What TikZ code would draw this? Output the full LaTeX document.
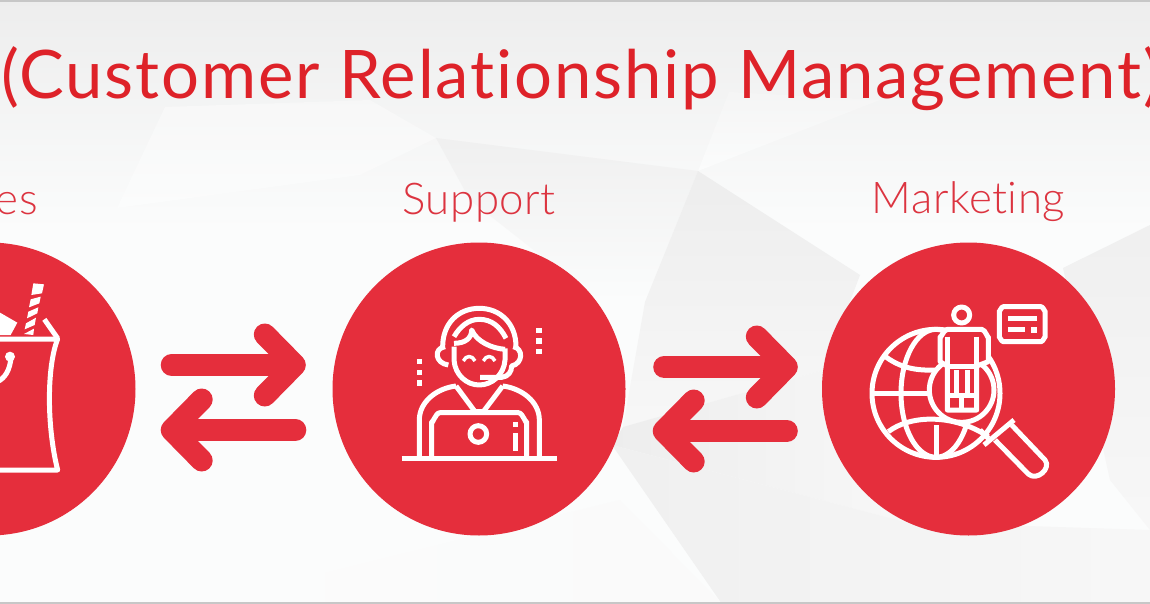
\documentclass[tikz,border=0pt]{standalone}
\usepackage{fontspec}
\setmainfont{Lato}[Ligatures=NoCommon]
\newfontfamily\thinface{Lato Light}[Ligatures=NoCommon, LetterSpace=1.2]
\usetikzlibrary{arrows.meta}
\definecolor{crmred}{HTML}{E52E3C}
\definecolor{titlered}{HTML}{DE2229}
\definecolor{labelred}{HTML}{DC3440}
\definecolor{paper}{HTML}{FBFCFC}
\tikzstyle{hub}=[circle, fill=crmred, inner sep=0pt, minimum size=293pt]
\tikzstyle{hublabel}=[inner sep=0pt, text=labelred, font=\thinface\fontsize{43.8}{43.8}\selectfont]
\tikzstyle{flow}=[draw=crmred, line width=22pt, line cap=round, -{Straight Barb[length=30pt, width=61pt, line width=22pt, round]}]
\tikzstyle{icon}=[draw=white, line width=5pt, line join=round]
\begin{document}
\begin{tikzpicture}[x=1pt, y=-1pt]
    \useasboundingbox (0, 0) rectangle (1150, 604);
    \clip (0, 0) rectangle (1150, 604);
    % background
    \fill[paper] (0, 0) rectangle (1150, 604);
    \shade[top color=black!7, bottom color=paper] (0, 0) rectangle (1150, 230);
    \shade[top color=black!3, bottom color=paper] (165, 107) -- (117, 208) -- (360, 175) -- (436, 138) -- (370, 100) -- cycle;
    \shade[top color=black!4, bottom color=paper] (698, 171) -- (729, 92) -- (880, 100) -- cycle;
    \shade[top color=black!6, bottom color=paper] (436, 138) -- (698, 171) -- (645, 302) -- (600, 302) -- (470, 200) -- cycle;
    \shade[top color=black!7, bottom color=black!3] (698, 171) -- (860, 275) -- (824, 370) -- (623, 427) -- (645, 302) -- cycle;
    \shade[left color=black!7, right color=black!3] (623, 427) -- (824, 370) -- (905, 522) -- (612, 445) -- cycle;
    \shade[left color=black!6, right color=black!3] (612, 445) -- (905, 522) -- (1150, 530) -- (1150, 604) -- (722, 604) -- cycle;
    \shade[top color=black!6, bottom color=black!3] (1063, 268) -- (1150, 225) -- (1150, 530) -- (1110, 480) -- cycle;
    \shade[left color=paper, right color=black!2] (200, 604) -- (620, 500) -- (722, 604) -- cycle;
    \draw[black!22, line width=1.2pt] (0, 1) -- (1150, 1) (0, 603) -- (1150, 603);
    % hubs
    \node[hub] (sales) at (-11, 389) {};
    \node[hub] (support) at (479, 389) {};
    \node[hub] (marketing) at (968.5, 389) {};
    \node[hublabel, anchor=base] (saleslabel) at (-11, 214) {Sales};
    \node[hublabel, anchor=base] (supportlabel) at (479, 214) {Support};
    \node[hublabel, anchor=base] (marketinglabel) at (968.5, 213) {Marketing};
    \node[inner sep=0pt, anchor=base west, text=titlered] (title) at (1, 99) {\fontsize{67}{67}\selectfont\addfontfeature{LetterSpace=2.8}(Customer Relationship Management)};
    % arrows between hubs
    \coordinate (a1) at ([xshift=36pt, yshift=24pt]sales.east);
    \coordinate (a2) at ([xshift=-26.5pt, yshift=24pt]support.west);
    \coordinate (a3) at ([xshift=-37pt, yshift=-41pt]support.west);
    \coordinate (a4) at ([xshift=25pt, yshift=-41pt]sales.east);
    \coordinate (b1) at ([xshift=38.5pt, yshift=22pt]support.east);
    \coordinate (b2) at ([xshift=-24pt, yshift=22pt]marketing.west);
    \coordinate (b3) at ([xshift=-35pt, yshift=-42pt]marketing.west);
    \coordinate (b4) at ([xshift=27pt, yshift=-42pt]support.east);
    \draw[flow] (a1) -- (a2);
    \draw[flow] (a3) -- (a4);
    \draw[flow] (b1) -- (b2);
    \draw[flow] (b3) -- (b4);
    % sales bag
    \begin{scope}[shift={(0, 270)}, scale=1/3]
        \fill[white] (-5, 125) -- (52, 158) -- (32, 195) -- (-5, 195) -- cycle;
        \fill[white] (100, 40) -- (132, 43) -- (126, 70) -- (94, 75) -- cycle;
        \fill[white] (92, 88) -- (122, 80) -- (118, 100) -- (87, 112) -- cycle;
        \fill[white] (85, 125) -- (115, 112) -- (112, 130) -- (81, 145) -- cycle;
        \fill[white] (78, 160) -- (108, 143) -- (104, 165) -- (74, 178) -- cycle;
        \fill[white] (72, 192) -- (102, 176) -- (100, 195) -- cycle;
        \draw[icon] (133, 148) -- (173, 205);
        \draw[icon] (-10, 207) -- (173, 207) .. controls (140, 290) and (140, 470) .. (173, 600) -- (-10, 600);
        \fill[white] (30, 260) circle (15);
        \draw[icon] (33, 262) .. controls (30, 300) and (15, 325) .. (-8, 335);
    \end{scope}
    % support agent
    \begin{scope}[shift={(380, 280)}, scale=1/3]
        \draw[icon] (65, 535) -- (530, 535);
        \draw[icon] (155, 530) -- (155, 425) to[out=-90, in=180] (180, 398) -- (415, 398) to[out=0, in=-90] (440, 425) -- (440, 530);
        \draw[icon] (295, 462) circle (25);
        \draw[icon] (405, 460) -- (405, 512) (405, 427) -- (405, 440);
        \draw[icon] (118, 530) -- (118, 420) .. controls (118, 365) and (170, 325) .. (228, 318);
        \draw[icon] (478, 530) -- (478, 420) .. controls (478, 365) and (425, 325) .. (368, 318);
        \draw[icon] (228, 318) -- (285, 395) -- (310, 395) -- (368, 318);
        \draw[icon] (222, 200) -- (222, 240) .. controls (225, 285) and (260, 315) .. (298, 315) .. controls (335, 315) and (372, 285) .. (375, 240) -- (375, 205);
        \draw[icon] (222, 190) .. controls (255, 190) and (275, 175) .. (275, 150) .. controls (290, 185) and (335, 205) .. (375, 208);
        \draw[icon] (188, 200) .. controls (188, 130) and (235, 85) .. (298, 85) .. controls (360, 85) and (408, 130) .. (408, 200);
        \draw[icon] (222, 170) .. controls (240, 140) and (265, 118) .. (298, 118) .. controls (335, 118) and (360, 140) .. (378, 175);
        \draw[icon] (195, 200) .. controls (160, 205) and (165, 250) .. (205, 255);
        \draw[icon] (400, 200) .. controls (430, 205) and (430, 250) .. (395, 258) .. controls (395, 275) and (385, 290) .. (365, 292) -- (300, 292);
        \draw[icon, line width=3.5pt] (250, 243) .. controls (258, 225) and (277, 225) .. (285, 243);
        \draw[icon, line width=3.5pt] (310, 243) .. controls (318, 225) and (337, 225) .. (345, 243);
        \foreach \dy in {245, 277, 309} {
            \fill[white] (110, \dy-8) rectangle (126, \dy+8);
        }
        \foreach \dy in {152, 183, 215} {
            \fill[white] (469, \dy-8) rectangle (485, \dy+8);
        }
    \end{scope}
    % marketing globe
    \begin{scope}[shift={(860, 290)}, scale=1/3]
        \draw[icon] (228, 310) circle (192);
        \draw[icon] (228, 310) ellipse (105 and 192);
        \draw[icon] (228, 405) -- (228, 500);
        \draw[icon] (40, 310) -- (220, 310);
        \draw[icon] (70, 195) .. controls (120, 235) and (170, 242) .. (225, 240);
        \draw[icon] (85, 425) .. controls (150, 375) and (280, 370) .. (385, 440);
        \draw[icon] (360, 420) -- (385, 445);
        \draw[icon] (372, 465) -- (462, 390);
        \draw[icon] (405, 450) -- (505, 552) .. controls (530, 575) and (575, 535) .. (555, 510) -- (455, 405);
        \draw[icon, fill=crmred] (305, 300) circle (97);
        \draw[icon, fill=crmred] (305, 75) circle (24);
        \draw[icon, fill=crmred] (240, 215) -- (240, 140) to[out=-90, in=180] (262, 118) -- (365, 118) to[out=0, in=-90] (385, 140) -- (385, 215) -- (350, 228) -- (350, 360) -- (262, 360) -- (262, 228) -- cycle;
        \draw[icon] (262, 140) -- (262, 228) (350, 140) -- (350, 228) -- (262, 228);
        \draw[icon] (290, 240) -- (290, 315) (322, 240) -- (322, 315);
        \draw[icon] (262, 315) -- (350, 315) (305, 315) -- (305, 360);
        \draw[icon] (418, 62) to[out=-90, in=180] (430, 50) -- (543, 50) to[out=0, in=-90] (555, 62) -- (555, 143) to[out=90, in=0] (543, 155) -- (430, 155) to[out=180, in=90] (418, 143) -- cycle;
        \draw[icon] (445, 85) -- (530, 85) (445, 118) -- (495, 118);
        \fill[white] (512, 112) rectangle (530, 128);
    \end{scope}
\end{tikzpicture}
\end{document}
